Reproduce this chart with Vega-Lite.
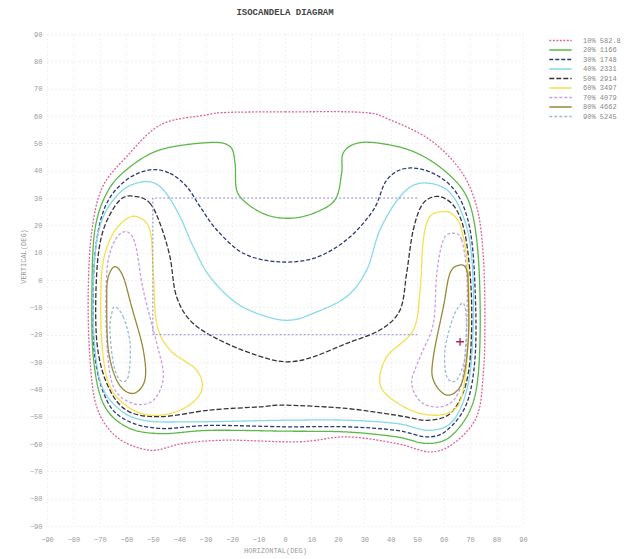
{
  "$schema": "https://vega.github.io/schema/vega-lite/v6.json",
  "width": 476,
  "height": 492,
  "autosize": "none",
  "padding": {"left": 47, "top": 34, "right": 108, "bottom": 33},
  "background": "white",
  "title": {"text": "ISOCANDELA DIAGRAM", "anchor": "middle", "font": "Liberation Mono", "fontSize": 9, "fontWeight": "bold", "color": "#444", "offset": 13},
  "config": {
    "view": {"stroke": null},
    "axis": {"domain": false, "ticks": false, "grid": true, "gridColor": "#e4e4e4", "gridDash": [1, 3], "gridWidth": 1, "labelOverlap": false, "tickCount": 19, "labelFont": "Liberation Mono", "labelFontSize": 7, "labelColor": "#999", "titleFont": "Liberation Mono", "titleFontSize": 7, "titleColor": "#999", "titleFontWeight": "normal"}
  },
  "layer": [
    {
      "data": {"values": [
        {"s":"10","p":"10","i":0,"x":-22,"y":61.3},{"s":"10","p":"10","i":1,"x":0,"y":61.5},{"s":"10","p":"10","i":2,"x":29.5,"y":61.3},{"s":"10","p":"10","i":3,"x":39.7,"y":58.6},{"s":"10","p":"10","i":4,"x":54.8,"y":51.3},{"s":"10","p":"10","i":5,"x":66.2,"y":40.3},{"s":"10","p":"10","i":6,"x":72.5,"y":26.8},{"s":"10","p":"10","i":7,"x":75,"y":8.5},{"s":"10","p":"10","i":8,"x":75.6,"y":-15.8},{"s":"10","p":"10","i":9,"x":75,"y":-34},{"s":"10","p":"10","i":10,"x":72.5,"y":-50},{"s":"10","p":"10","i":11,"x":63.7,"y":-59.8},{"s":"10","p":"10","i":12,"x":54.8,"y":-62.9},{"s":"10","p":"10","i":13,"x":42.2,"y":-59.8},{"s":"10","p":"10","i":14,"x":23.3,"y":-57.4},{"s":"10","p":"10","i":15,"x":5,"y":-59.2},{"s":"10","p":"10","i":16,"x":-22,"y":-58.6},{"s":"10","p":"10","i":17,"x":-38.6,"y":-59.8},{"s":"10","p":"10","i":18,"x":-51,"y":-62.3},{"s":"10","p":"10","i":19,"x":-63.7,"y":-57.4},{"s":"10","p":"10","i":20,"x":-71.2,"y":-46.4},{"s":"10","p":"10","i":21,"x":-73.8,"y":-28},{"s":"10","p":"10","i":22,"x":-74.4,"y":-3.7},{"s":"10","p":"10","i":23,"x":-73,"y":18.3},{"s":"10","p":"10","i":24,"x":-69,"y":34},{"s":"10","p":"10","i":25,"x":-60,"y":45},{"s":"10","p":"10","i":26,"x":-47,"y":56.8},{"s":"10","p":"10","i":27,"x":-29.6,"y":60.4},

        {"s":"20","p":"20","i":0,"x":-28.4,"y":50.3},{"s":"20","p":"20","i":1,"x":-20.8,"y":48.8},{"s":"20","p":"20","i":2,"x":-18.9,"y":42.7},{"s":"20","p":"20","i":3,"x":-18.3,"y":33},{"s":"20","p":"20","i":4,"x":-14.5,"y":28.1},{"s":"20","p":"20","i":5,"x":-6.9,"y":23.8},{"s":"20","p":"20","i":6,"x":2,"y":22.6},{"s":"20","p":"20","i":7,"x":10.7,"y":24.4},{"s":"20","p":"20","i":8,"x":18.9,"y":29.3},{"s":"20","p":"20","i":9,"x":21.4,"y":39},{"s":"20","p":"20","i":10,"x":22,"y":46.4},{"s":"20","p":"20","i":11,"x":27.1,"y":50},{"s":"20","p":"20","i":12,"x":35.9,"y":50},{"s":"20","p":"20","i":13,"x":48.5,"y":47},{"s":"20","p":"20","i":14,"x":59.9,"y":40.3},{"s":"20","p":"20","i":15,"x":68.7,"y":30.5},{"s":"20","p":"20","i":16,"x":72.5,"y":14.7},{"s":"20","p":"20","i":17,"x":73.8,"y":-9.8},{"s":"20","p":"20","i":18,"x":73.1,"y":-34.2},{"s":"20","p":"20","i":19,"x":70,"y":-47.6},{"s":"20","p":"20","i":20,"x":62.4,"y":-57.4},{"s":"20","p":"20","i":21,"x":53.6,"y":-59.8},{"s":"20","p":"20","i":22,"x":42.2,"y":-57.4},{"s":"20","p":"20","i":23,"x":23.3,"y":-55.6},{"s":"20","p":"20","i":24,"x":0,"y":-55.3},{"s":"20","p":"20","i":25,"x":-28.4,"y":-55},{"s":"20","p":"20","i":26,"x":-47.3,"y":-56.2},{"s":"20","p":"20","i":27,"x":-60,"y":-53.7},{"s":"20","p":"20","i":28,"x":-68.7,"y":-45.2},{"s":"20","p":"20","i":29,"x":-72.5,"y":-28},{"s":"20","p":"20","i":30,"x":-73,"y":-3.7},{"s":"20","p":"20","i":31,"x":-71.9,"y":18.3},{"s":"20","p":"20","i":32,"x":-67.4,"y":31.8},{"s":"20","p":"20","i":33,"x":-60,"y":40.3},{"s":"20","p":"20","i":34,"x":-47.3,"y":47.6},

        {"s":"30","p":"30","i":0,"x":-51,"y":40.3},{"s":"30","p":"30","i":1,"x":-43.5,"y":39},{"s":"30","p":"30","i":2,"x":-37.2,"y":34.2},{"s":"30","p":"30","i":3,"x":-32.1,"y":26.8},{"s":"30","p":"30","i":4,"x":-25.8,"y":18.3},{"s":"30","p":"30","i":5,"x":-15.8,"y":9.8},{"s":"30","p":"30","i":6,"x":-3.1,"y":6.7},{"s":"30","p":"30","i":7,"x":10.7,"y":7.9},{"s":"30","p":"30","i":8,"x":23.3,"y":14.7},{"s":"30","p":"30","i":9,"x":33.4,"y":25.6},{"s":"30","p":"30","i":10,"x":38.5,"y":36.6},{"s":"30","p":"30","i":11,"x":46,"y":40.9},{"s":"30","p":"30","i":12,"x":56.1,"y":39},{"s":"30","p":"30","i":13,"x":64.9,"y":31.8},{"s":"30","p":"30","i":14,"x":70,"y":18.3},{"s":"30","p":"30","i":15,"x":71.9,"y":-3.7},{"s":"30","p":"30","i":16,"x":71.9,"y":-28},{"s":"30","p":"30","i":17,"x":68.7,"y":-45.2},{"s":"30","p":"30","i":18,"x":61.2,"y":-55},{"s":"30","p":"30","i":19,"x":53.6,"y":-57.4},{"s":"30","p":"30","i":20,"x":42.2,"y":-55},{"s":"30","p":"30","i":21,"x":23.3,"y":-53.7},{"s":"30","p":"30","i":22,"x":0,"y":-53.7},{"s":"30","p":"30","i":23,"x":-28.4,"y":-53.2},{"s":"30","p":"30","i":24,"x":-47.3,"y":-54.3},{"s":"30","p":"30","i":25,"x":-60,"y":-51.3},{"s":"30","p":"30","i":26,"x":-67.4,"y":-44},{"s":"30","p":"30","i":27,"x":-71.9,"y":-28},{"s":"30","p":"30","i":28,"x":-72.5,"y":-3.7},{"s":"30","p":"30","i":29,"x":-71.2,"y":14.7},{"s":"30","p":"30","i":30,"x":-67.4,"y":28.1},{"s":"30","p":"30","i":31,"x":-60,"y":36.6},

        {"s":"40","p":"40","i":0,"x":-52.3,"y":36},{"s":"40","p":"40","i":1,"x":-46,"y":33},{"s":"40","p":"40","i":2,"x":-39.7,"y":23.2},{"s":"40","p":"40","i":3,"x":-34.7,"y":12.2},{"s":"40","p":"40","i":4,"x":-28.4,"y":1.2},{"s":"40","p":"40","i":5,"x":-18.3,"y":-8.5},{"s":"40","p":"40","i":6,"x":-6.9,"y":-13.4},{"s":"40","p":"40","i":7,"x":2,"y":-14.7},{"s":"40","p":"40","i":8,"x":10.7,"y":-12.2},{"s":"40","p":"40","i":9,"x":23.3,"y":-6.1},{"s":"40","p":"40","i":10,"x":30.9,"y":3.7},{"s":"40","p":"40","i":11,"x":35.9,"y":18.3},{"s":"40","p":"40","i":12,"x":43.5,"y":30.5},{"s":"40","p":"40","i":13,"x":51.1,"y":35.4},{"s":"40","p":"40","i":14,"x":61.2,"y":33},{"s":"40","p":"40","i":15,"x":67.4,"y":23.2},{"s":"40","p":"40","i":16,"x":70.6,"y":8.5},{"s":"40","p":"40","i":17,"x":71.2,"y":-15.9},{"s":"40","p":"40","i":18,"x":69.3,"y":-37.8},{"s":"40","p":"40","i":19,"x":63.7,"y":-51.3},{"s":"40","p":"40","i":20,"x":54.8,"y":-55},{"s":"40","p":"40","i":21,"x":42.2,"y":-52.5},{"s":"40","p":"40","i":22,"x":23.3,"y":-51.3},{"s":"40","p":"40","i":23,"x":0,"y":-51.3},{"s":"40","p":"40","i":24,"x":-34.7,"y":-51.9},{"s":"40","p":"40","i":25,"x":-53.6,"y":-51.3},{"s":"40","p":"40","i":26,"x":-63.7,"y":-46.4},{"s":"40","p":"40","i":27,"x":-70,"y":-36.6},{"s":"40","p":"40","i":28,"x":-72.5,"y":-15.9},{"s":"40","p":"40","i":29,"x":-71.9,"y":8.5},{"s":"40","p":"40","i":30,"x":-68.7,"y":23.2},{"s":"40","p":"40","i":31,"x":-61.2,"y":33},

        {"s":"50","p":"50","i":0,"x":-56.1,"y":30.5},{"s":"50","p":"50","i":1,"x":-51.1,"y":28.1},{"s":"50","p":"50","i":2,"x":-47.3,"y":20.8},{"s":"50","p":"50","i":3,"x":-43.5,"y":8.5},{"s":"50","p":"50","i":4,"x":-41,"y":-6.1},{"s":"50","p":"50","i":5,"x":-34.7,"y":-15.9},{"s":"50","p":"50","i":6,"x":-22.1,"y":-23.2},{"s":"50","p":"50","i":7,"x":-6.9,"y":-28.7},{"s":"50","p":"50","i":8,"x":2,"y":-29.9},{"s":"50","p":"50","i":9,"x":10.7,"y":-28.1},{"s":"50","p":"50","i":10,"x":23.3,"y":-23.2},{"s":"50","p":"50","i":11,"x":35.9,"y":-18.3},{"s":"50","p":"50","i":12,"x":43.5,"y":-11},{"s":"50","p":"50","i":13,"x":46,"y":2.5},{"s":"50","p":"50","i":14,"x":48.5,"y":18.3},{"s":"50","p":"50","i":15,"x":52.3,"y":28.1},{"s":"50","p":"50","i":16,"x":58.6,"y":30.5},{"s":"50","p":"50","i":17,"x":64.9,"y":25.6},{"s":"50","p":"50","i":18,"x":68.7,"y":13.4},{"s":"50","p":"50","i":19,"x":70.6,"y":-9.8},{"s":"50","p":"50","i":20,"x":69.3,"y":-34.2},{"s":"50","p":"50","i":21,"x":63.7,"y":-47.6},{"s":"50","p":"50","i":22,"x":54.8,"y":-51.3},{"s":"50","p":"50","i":23,"x":42.2,"y":-49.5},{"s":"50","p":"50","i":24,"x":23.3,"y":-47},{"s":"50","p":"50","i":25,"x":0,"y":-45.8},{"s":"50","p":"50","i":26,"x":-9.5,"y":-46.4},{"s":"50","p":"50","i":27,"x":-28.4,"y":-47.6},{"s":"50","p":"50","i":28,"x":-47.3,"y":-50},{"s":"50","p":"50","i":29,"x":-60,"y":-47.6},{"s":"50","p":"50","i":30,"x":-67.4,"y":-37.8},{"s":"50","p":"50","i":31,"x":-71.2,"y":-22},{"s":"50","p":"50","i":32,"x":-71.2,"y":2.5},{"s":"50","p":"50","i":33,"x":-68.7,"y":18.3},{"s":"50","p":"50","i":34,"x":-62.4,"y":29.3},

        {"s":"60","p":"60L","i":0,"x":-56.1,"y":23.2},{"s":"60","p":"60L","i":1,"x":-51.1,"y":18.3},{"s":"60","p":"60L","i":2,"x":-49.8,"y":2.5},{"s":"60","p":"60L","i":3,"x":-48.5,"y":-15.9},{"s":"60","p":"60L","i":4,"x":-43.5,"y":-25.6},{"s":"60","p":"60L","i":5,"x":-33.4,"y":-33},{"s":"60","p":"60L","i":6,"x":-31.5,"y":-40.3},{"s":"60","p":"60L","i":7,"x":-37.2,"y":-46.4},{"s":"60","p":"60L","i":8,"x":-47.3,"y":-49.5},{"s":"60","p":"60L","i":9,"x":-57.4,"y":-47.6},{"s":"60","p":"60L","i":10,"x":-66.2,"y":-39},{"s":"60","p":"60L","i":11,"x":-69.3,"y":-22},{"s":"60","p":"60L","i":12,"x":-69.3,"y":2.5},{"s":"60","p":"60L","i":13,"x":-66.2,"y":14.7},{"s":"60","p":"60L","i":14,"x":-61.2,"y":21.4},
        {"s":"60","p":"60R","i":0,"x":59.9,"y":25},{"s":"60","p":"60R","i":1,"x":63.7,"y":23.8},{"s":"60","p":"60R","i":2,"x":66.8,"y":18.3},{"s":"60","p":"60R","i":3,"x":69.3,"y":2.5},{"s":"60","p":"60R","i":4,"x":69.3,"y":-22},{"s":"60","p":"60R","i":5,"x":66.8,"y":-42.7},{"s":"60","p":"60R","i":6,"x":61.2,"y":-48.8},{"s":"60","p":"60R","i":7,"x":51.1,"y":-48.8},{"s":"60","p":"60R","i":8,"x":41,"y":-44},{"s":"60","p":"60R","i":9,"x":35.9,"y":-37.8},{"s":"60","p":"60R","i":10,"x":38.5,"y":-28.1},{"s":"60","p":"60R","i":11,"x":48.5,"y":-18.3},{"s":"60","p":"60R","i":12,"x":51.1,"y":-3.7},{"s":"60","p":"60R","i":13,"x":52.3,"y":14.7},{"s":"60","p":"60R","i":14,"x":54.8,"y":23.2},

        {"s":"70","p":"70L","i":0,"x":-60.5,"y":17.7},{"s":"70","p":"70L","i":1,"x":-56.7,"y":13.4},{"s":"70","p":"70L","i":2,"x":-53.6,"y":-3.7},{"s":"70","p":"70L","i":3,"x":-48.5,"y":-23.2},{"s":"70","p":"70L","i":4,"x":-46,"y":-35.4},{"s":"70","p":"70L","i":5,"x":-49.8,"y":-44},{"s":"70","p":"70L","i":6,"x":-57.4,"y":-45.2},{"s":"70","p":"70L","i":7,"x":-64.9,"y":-39},{"s":"70","p":"70L","i":8,"x":-67.4,"y":-22},{"s":"70","p":"70L","i":9,"x":-67.4,"y":2.5},{"s":"70","p":"70L","i":10,"x":-64.9,"y":13.4},
        {"s":"70","p":"70R","i":0,"x":63.7,"y":17.1},{"s":"70","p":"70R","i":1,"x":66.8,"y":14.7},{"s":"70","p":"70R","i":2,"x":68.7,"y":2.5},{"s":"70","p":"70R","i":3,"x":68.7,"y":-15.9},{"s":"70","p":"70R","i":4,"x":66.8,"y":-37.8},{"s":"70","p":"70R","i":5,"x":61.2,"y":-45.8},{"s":"70","p":"70R","i":6,"x":52.3,"y":-45.2},{"s":"70","p":"70R","i":7,"x":47.9,"y":-37.8},{"s":"70","p":"70R","i":8,"x":51.1,"y":-28.1},{"s":"70","p":"70R","i":9,"x":56.1,"y":-15.9},{"s":"70","p":"70R","i":10,"x":57.4,"y":2.5},{"s":"70","p":"70R","i":11,"x":59.9,"y":14.7},

        {"s":"80","p":"80L","i":0,"x":-64.3,"y":4.9},{"s":"80","p":"80L","i":1,"x":-61.2,"y":1.2},{"s":"80","p":"80L","i":2,"x":-58,"y":-9.8},{"s":"80","p":"80L","i":3,"x":-53.6,"y":-25.6},{"s":"80","p":"80L","i":4,"x":-53,"y":-36.6},{"s":"80","p":"80L","i":5,"x":-57.4,"y":-41.5},{"s":"80","p":"80L","i":6,"x":-63,"y":-37.8},{"s":"80","p":"80L","i":7,"x":-66.8,"y":-25.6},{"s":"80","p":"80L","i":8,"x":-67.4,"y":-6.1},{"s":"80","p":"80L","i":9,"x":-66.8,"y":1.2},
        {"s":"80","p":"80R","i":0,"x":66.2,"y":5.5},{"s":"80","p":"80R","i":1,"x":68.7,"y":3.7},{"s":"80","p":"80R","i":2,"x":69.3,"y":-3.7},{"s":"80","p":"80R","i":3,"x":69.3,"y":-22},{"s":"80","p":"80R","i":4,"x":66.8,"y":-37.8},{"s":"80","p":"80R","i":5,"x":61.2,"y":-42.1},{"s":"80","p":"80R","i":6,"x":56.1,"y":-36.6},{"s":"80","p":"80R","i":7,"x":56.1,"y":-28.1},{"s":"80","p":"80R","i":8,"x":59.9,"y":-9.8},{"s":"80","p":"80R","i":9,"x":62.4,"y":2.5},

        {"s":"90","p":"90L","i":0,"x":-64.3,"y":-9.8},{"s":"90","p":"90L","i":1,"x":-61.2,"y":-13.4},{"s":"90","p":"90L","i":2,"x":-58.6,"y":-23.2},{"s":"90","p":"90L","i":3,"x":-59.3,"y":-35.4},{"s":"90","p":"90L","i":4,"x":-62.4,"y":-36.6},{"s":"90","p":"90L","i":5,"x":-64.9,"y":-30.5},{"s":"90","p":"90L","i":6,"x":-66.2,"y":-18.3},{"s":"90","p":"90L","i":7,"x":-65.5,"y":-12.2},
        {"s":"90","p":"90R","i":0,"x":67.4,"y":-8.5},{"s":"90","p":"90R","i":1,"x":68.7,"y":-15.9},{"s":"90","p":"90R","i":2,"x":68.1,"y":-28},{"s":"90","p":"90R","i":3,"x":64.9,"y":-36.6},{"s":"90","p":"90R","i":4,"x":61.2,"y":-35.4},{"s":"90","p":"90R","i":5,"x":60.5,"y":-25.6},{"s":"90","p":"90R","i":6,"x":63.7,"y":-13.4}
      ]},
      "mark": {"type": "line", "interpolate": "cardinal-closed", "strokeWidth": 1.3},
      "encoding": {
        "x": {"field": "x", "type": "quantitative", "scale": {"domain": [-90, 90], "nice": false, "zero": false},
              "axis": {"values": [-90,-80,-70,-60,-50,-40,-30,-20,-10,0,10,20,30,40,50,60,70,80,90], "tickCount": 19, "labelOverlap": false, "labelFlush": false, "labelPadding": 9, "title": "HORIZONTAL(DEG)", "titlePadding": 4, "titleX": 228}},
        "y": {"field": "y", "type": "quantitative", "scale": {"domain": [-90, 90], "nice": false, "zero": false},
              "axis": {"values": [-90,-80,-70,-60,-50,-40,-30,-20,-10,0,10,20,30,40,50,60,70,80,90], "tickCount": 19, "labelOverlap": false, "labelFlush": false, "labelPadding": 5, "title": "VERTICAL(DEG)", "titlePadding": 3, "titleY": 222}},
        "detail": {"field": "p"},
        "order": {"field": "i", "type": "quantitative"},
        "color": {"field": "s", "type": "nominal",
                  "scale": {"domain": ["10","20","30","40","50","60","70","80","90"], "range": ["#e0649c","#5cb848","#2c3a78","#86d8ea","#3a333a","#f3e04e","#c99ee2","#958a3a","#9cbad8"]},
                  "legend": {"orient": "none", "legendX": 509, "legendY": 2, "title": null, "padding": 0, "symbolType": "M-3.2,0H3.2", "symbolSize": 49, "symbolStrokeWidth": 1.3, "labelOffset": 18, "rowPadding": 1.5, "labelFont": "Liberation Mono", "labelFontSize": 7, "labelColor": "#888",
                             "labelExpr": "{'10':'10% 582.8','20':'20% 1166','30':'30% 1748','40':'40% 2331','50':'50% 2914','60':'60% 3497','70':'70% 4079','80':'80% 4662','90':'90% 5245'}[datum.label]"}},
        "strokeDash": {"field": "s", "type": "nominal",
                  "scale": {"domain": ["10","20","30","40","50","60","70","80","90"], "range": [[2,1.5],[1,0],[4,2],[1,0],[5,2],[1,0],[3,2],[1,0],[3,2]]}}
      }
    },
    {
      "data": {"values": [
        {"i":0,"x":50,"y":30},{"i":1,"x":-50,"y":30},{"i":2,"x":-50,"y":-20},{"i":3,"x":50,"y":-20}
      ]},
      "mark": {"type": "line", "color": "#9090d8", "strokeWidth": 1, "strokeDash": [2, 2]},
      "encoding": {
        "x": {"field": "x", "type": "quantitative"},
        "y": {"field": "y", "type": "quantitative"},
        "order": {"field": "i", "type": "quantitative"}
      }
    },
    {
      "data": {"values": [{"x": 66.2, "y": -22.6}]},
      "mark": {"type": "point", "shape": "M-1,0H1M0,-1V1", "size": 60, "filled": false, "color": "#b0205a", "strokeWidth": 1.3, "opacity": 1},
      "encoding": {
        "x": {"field": "x", "type": "quantitative"},
        "y": {"field": "y", "type": "quantitative"}
      }
    },
    {
      "mark": {"type": "text", "text": "UNIT: cd", "align": "left", "baseline": "middle", "font": "Liberation Mono", "fontSize": 7, "color": "#888", "clip": false},
      "encoding": {
        "x": {"datum": 107, "type": "quantitative"},
        "y": {"datum": -88, "type": "quantitative"}
      }
    }
  ]
}
